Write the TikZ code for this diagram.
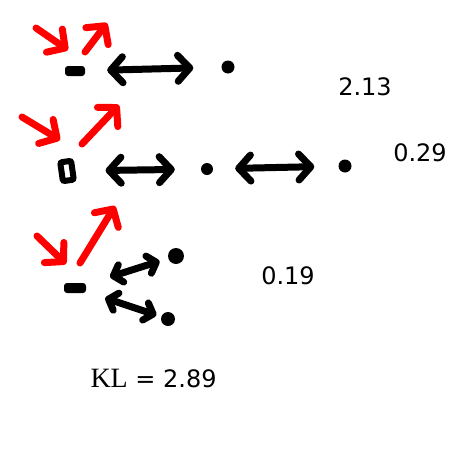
\documentclass[tikz,border=0pt]{standalone}
\usepackage{fontspec}
\usetikzlibrary{arrows.meta, positioning}
\newfontfamily\numfont{DejaVu Sans}
\newfontfamily\klfont{Liberation Serif}

\begin{document}
\begin{tikzpicture}[x=1pt, y=-1pt,
  dot/.style={circle, fill=black, inner sep=0pt, minimum size=13pt},
  stub/.style={rectangle, rounded corners=3pt, fill=black, inner sep=0pt, minimum width=20pt, minimum height=10pt},
  link/.style={line width=7pt, line cap=round,
    {Straight Barb[length=12pt,width=26pt,round]}-{Straight Barb[length=12pt,width=26pt,round]}},
  shortlink/.style={line width=7pt, line cap=round,
    {Straight Barb[length=8pt,width=18pt,round]}-{Straight Barb[length=8pt,width=18pt,round]}},
  nudge/.style={red, line width=7pt, line cap=round, -{Straight Barb[length=13pt,width=28pt,round]}},
  score/.style={font=\numfont\fontsize{24}{28}\selectfont}]
  \useasboundingbox (0,0) rectangle (460,461);

  % first row
  \node[stub] (r1a) at (75,71) {};
  \node[dot] (r1b) at (228,67) {};
  \draw[link] (r1a) -- (r1b) [shorten <=22pt, shorten >=28pt];
  \coordinate (in1) at (36,28);
  \coordinate (in1t) at (68,50);
  \coordinate (out1) at (85,52);
  \coordinate (out1t) at (107,23);
  \draw[nudge] (in1) -- (in1t);
  \draw[nudge] (out1) -- (out1t);
  \node[score] (s1) at (365,87) {2.13};

  % second row
  \node[draw, line width=6pt, rounded corners=2pt, inner sep=0pt, minimum width=11pt, minimum height=19pt, rotate=8] (r2a) at (67,171) {};
  \node[dot, minimum size=12pt] (r2b) at (207,169) {};
  \node[dot] (r2c) at (345,166) {};
  \draw[link] (r2a) -- (r2b) [shorten <=30pt, shorten >=26pt];
  \draw[link] (r2b) -- (r2c) [shorten <=22pt, shorten >=24pt];
  \coordinate (in2) at (22,117);
  \coordinate (in2t) at (60,140);
  \coordinate (out2) at (82,144);
  \coordinate (out2t) at (119,105);
  \draw[nudge] (in2) -- (in2t);
  \draw[nudge] (out2) -- (out2t);
  \node[score] (s2) at (420,153) {0.29};

  % third row
  \node[stub, minimum width=22pt] (r3a) at (75,288) {};
  \node[dot, minimum size=16pt] (r3b) at (176,256) {};
  \node[dot, minimum size=14pt] (r3c) at (168,319) {};
  \draw[shortlink] (r3a) -- (r3b) [shorten <=25pt, shorten >=9pt];
  \draw[shortlink] (r3a) -- (r3c) [shorten <=20pt, shorten >=5pt];
  \coordinate (in3) at (37,236);
  \coordinate (in3t) at (66,264);
  \coordinate (out3) at (80,263);
  \coordinate (out3t) at (115,206);
  \draw[nudge] (in3) -- (in3t);
  \draw[nudge] (out3) -- (out3t);
  \node[score] (s3) at (288,276) {0.19};

  % total
  \node[score, anchor=base west] (kl) at (87,387) {{\klfont\fontsize{28}{32}\selectfont KL} = 2.89};
\end{tikzpicture}
\end{document}
